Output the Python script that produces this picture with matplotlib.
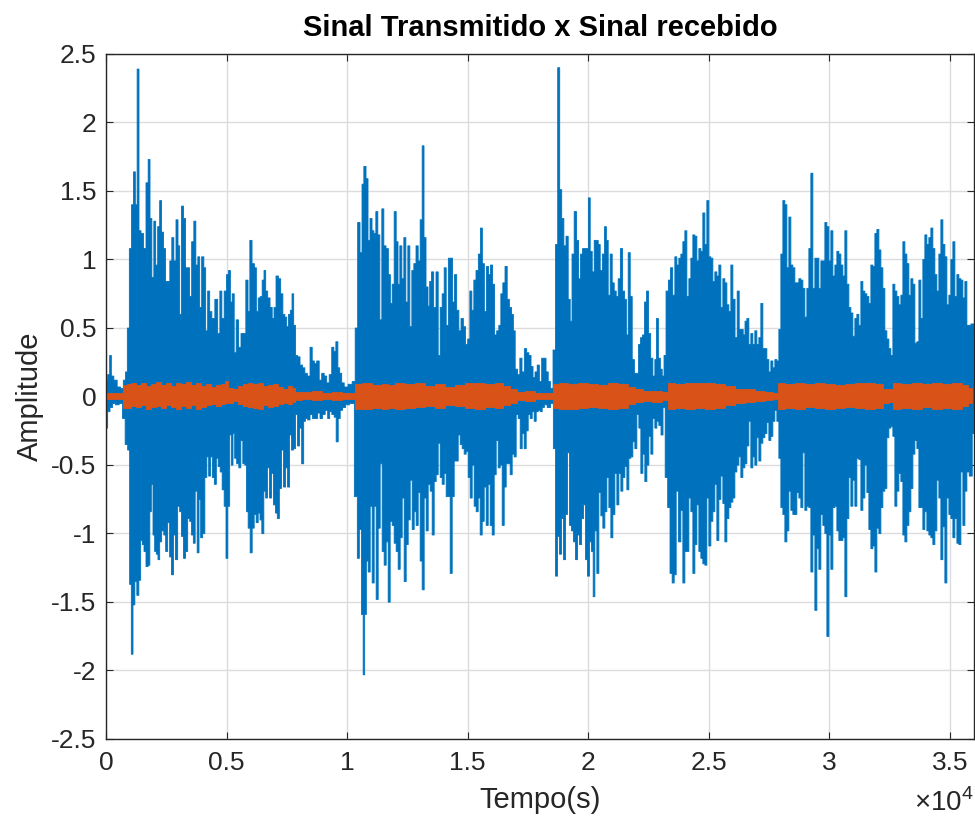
import numpy as np
import matplotlib.pyplot as plt

# transmitted signal (blue): upper envelope, sample index -> amplitude
t_tx_up = [
    0, 97, 166, 235, 373, 511, 649, 747, 830, 899,
    996, 1078, 1161, 1230, 1313, 1382, 1479, 1590, 1687, 1770,
    1839, 1922, 2005, 2074, 2171, 2240, 2323, 2406, 2489, 2586,
    2668, 2751, 2834, 2931, 3001, 3069, 3153, 3235, 3318, 3402,
    3484, 3581, 3664, 3747, 3830, 3899, 3996, 4078, 4148, 4245,
    4314, 4425, 4563, 4660, 4743, 4826, 4936, 5019, 5103, 5171,
    5255, 5337, 5420, 5530, 5627, 5724, 5835, 5904, 5987, 6084,
    6180, 6250, 6333, 6416, 6498, 6568, 6637, 6734, 6831, 6913,
    6983, 7079, 7176, 7273, 7356, 7439, 7508, 7591, 7661, 7729,
    7798, 7881, 7978, 8075, 8185, 8269, 8393, 8490, 8573, 8669,
    8766, 8877, 8974, 9084, 9181, 9292, 9389, 9471, 9555, 9638,
    9707, 9804, 9914, 10122, 10260,
    10369, 10466, 10563, 10632, 10715, 10812, 10881, 10978, 11047, 11130,
    11212, 11295, 11378, 11461, 11544, 11641, 11738, 11807, 11890, 11973,
    12056, 12125, 12208, 12291, 12374, 12457, 12540, 12623, 12706, 12789,
    12885, 12968, 13051, 13134, 13203, 13300, 13369, 13439, 13521, 13618,
    13715, 13798, 13881, 13964, 14047, 14130, 14227, 14310, 14393, 14476,
    14572, 14655, 14752, 14849, 14932, 15029, 15111, 15194, 15277, 15374,
    15471, 15554, 15623, 15720, 15803, 15886, 15969, 16052, 16135, 16231,
    16314, 16397, 16480, 16577, 16660, 16757, 16840, 16909, 16992, 17102,
    17185, 17282, 17379, 17476, 17559, 17655, 17725, 17821, 17904, 18001,
    18098, 18181, 18278, 18361, 18457, 18582, 18665, 18762, 18831, 18928,
    19010, 19107, 19190, 19273, 19342, 19453, 19536, 19619, 19702, 19785,
    19868, 19951, 20020, 20103, 20186, 20269, 20352, 20434, 20517, 20614,
    20697, 20766, 20849, 20932, 21015, 21098, 21181, 21264, 21361, 21444,
    21527, 21596, 21679, 21762, 21845, 21942, 22025, 22108, 22191, 22274,
    22357, 22439, 22522, 22619, 22702, 22785, 22840, 22937,
    23006, 23089, 23158, 23255, 23351, 23434, 23531, 23614, 23697, 23780,
    23863, 23946, 24029, 24112, 24195, 24278, 24361, 24444, 24527, 24610,
    24692, 24775, 24858, 24941, 25024, 25107, 25190, 25273, 25356, 25439,
    25522, 25605, 25688, 25771, 25854, 25937, 26020, 26117, 26199, 26282,
    26365, 26448, 26517, 26600, 26683, 26766, 26849, 26932, 27015, 27098,
    27181, 27264, 27347, 27430, 27513, 27596, 27679, 27762, 27845, 27928,
    28011, 28094, 28177, 28260, 28342, 28425, 28508, 28591, 28674, 28757,
    28840, 28923, 29006, 29089, 29172, 29255, 29338, 29421, 29504, 29587,
    29670, 29753, 29836, 29919, 30002, 30085, 30168, 30251, 30333, 30416,
    30499, 30582, 30665, 30748, 30831, 30914, 30997, 31080, 31163, 31246,
    31329, 31412, 31495, 31578, 31661, 31744, 31827, 31910, 31993, 32076,
    32158, 32241, 32324, 32407, 32490, 32573, 32656, 32739, 32822, 32905,
    32988, 33071, 33154, 33237, 33320, 33403, 33486, 33569, 33652, 33735,
    33817, 33900, 33983, 34066, 34149, 34232, 34315, 34398, 34481, 34564,
    34647, 34730, 34813, 34896, 34979, 35062, 35145, 35228, 35311, 35394,
    35477, 35560, 35643, 35726, 35975,
]
tx_up = [
    0.12, 0.16, 0.30, 0.15, 0.12, 0.07, 0.06, 0.12, 0.18, 0.50,
    1.08, 1.40, 1.64, 1.40, 2.39, 1.21, 1.19, 1.08, 1.56, 1.73,
    1.30, 0.87, 1.28, 0.96, 1.24, 1.43, 1.20, 1.08, 0.84, 0.84,
    0.99, 1.16, 0.99, 1.29, 1.10, 0.60, 1.39, 1.30, 0.94, 0.94,
    0.73, 1.13, 1.28, 0.96, 1.02, 0.65, 1.02, 0.94, 0.48, 0.77,
    0.62, 0.57, 0.71, 0.46, 0.77, 0.57, 0.77, 0.89, 0.92, 0.69,
    0.75, 0.32, 0.56, 0.36, 0.46, 0.46, 0.85, 0.62, 1.14, 0.97,
    0.94, 0.62, 0.72, 0.73, 0.85, 0.92, 0.77, 0.72, 0.65, 0.57,
    0.65, 0.88, 0.86, 0.75, 0.60, 0.58, 0.51, 0.60, 0.63, 0.75,
    0.52, 0.30, 0.29, 0.23, 0.21, 0.17, 0.15, 0.36, 0.26, 0.24,
    0.26, 0.12, 0.17, 0.15, 0.10, 0.16, 0.36, 0.33, 0.40, 0.21,
    0.17, 0.10, 0.07, 0.09, 0.11,
    0.50, 1.27, 1.05, 1.55, 1.68, 1.59, 1.14, 1.30, 1.21, 1.19,
    1.35, 1.18, 0.56, 1.37, 1.10, 1.08, 0.89, 0.68, 0.82, 1.35,
    1.13, 0.82, 1.10, 0.86, 1.16, 0.69, 1.10, 0.51, 0.92, 0.97,
    1.10, 0.99, 1.29, 1.83, 1.16, 0.80, 0.66, 0.84, 0.91, 0.65,
    0.91, 0.30, 0.65, 0.75, 0.94, 0.52, 1.01, 1.01, 0.69, 0.89,
    0.63, 0.48, 0.57, 0.51, 0.38, 0.42, 0.77, 0.63, 0.85, 0.92,
    1.04, 1.23, 0.97, 0.62, 0.95, 0.89, 0.96, 0.82, 0.45, 0.48,
    0.52, 0.75, 0.83, 0.95, 0.71, 0.65, 0.60, 0.48, 0.20, 0.16,
    0.28, 0.18, 0.35, 0.32, 0.30, 0.22, 0.14, 0.18, 0.23, 0.11,
    0.28, 0.28, 0.18, 0.11, 0.06, 0.34, 1.11, 2.40, 1.51, 1.30,
    1.10, 1.17, 0.71, 0.55, 1.04, 1.35, 1.14, 0.86, 1.04, 1.08,
    1.08, 1.08, 1.45, 1.06, 0.91, 1.14, 1.14, 1.11, 0.92, 1.04,
    1.24, 1.14, 0.74, 1.04, 0.83, 0.77, 0.73, 0.86, 1.08, 0.77,
    0.71, 0.45, 1.05, 0.73, 0.27, 0.17, 0.17, 0.38, 0.43, 0.45,
    0.69, 0.77, 0.46, 0.28, 0.15, 0.27, 0.57, 0.28,
    0.20, 0.15, 0.30, 0.77, 0.85, 0.94, 0.74, 1.02, 0.96, 1.01,
    1.04, 1.13, 1.21, 0.73, 0.86, 1.01, 1.18, 1.17, 0.99, 1.08,
    1.06, 1.34, 1.11, 1.43, 1.02, 1.01, 0.84, 0.91, 0.88, 0.96,
    0.65, 0.86, 0.83, 0.67, 0.62, 0.96, 0.71, 0.43, 0.77, 0.49,
    0.49, 0.45, 0.55, 0.57, 0.38, 0.46, 0.38, 0.48, 0.38, 0.43,
    0.68, 0.35, 0.35, 0.27, 0.18, 0.26, 0.21, 0.27, 0.26, 0.49,
    1.04, 1.43, 1.40, 0.94, 1.31, 0.96, 0.94, 0.83, 0.83, 0.86,
    0.85, 0.79, 0.58, 0.79, 1.08, 1.63, 0.79, 1.01, 1.01, 0.79,
    0.99, 0.99, 1.27, 1.24, 0.99, 1.21, 0.88, 0.96, 1.06, 1.04,
    0.96, 0.88, 1.21, 0.82, 0.65, 0.61, 0.44, 0.57, 0.60, 0.52,
    0.84, 0.77, 0.75, 0.73, 0.68, 0.96, 0.95, 1.19, 1.22, 1.07,
    0.94, 0.79, 0.48, 0.42, 0.35, 0.30, 0.82, 0.77, 0.73, 0.67,
    0.74, 1.13, 1.04, 0.97, 0.74, 0.86, 0.82, 0.39, 0.40, 0.85,
    0.57, 1.00, 1.18, 1.11, 1.16, 1.23, 1.08, 0.89, 0.77, 1.04,
    1.29, 1.11, 1.02, 0.67, 0.74, 1.00, 1.13, 0.73, 0.89, 0.86,
    0.85, 0.72, 0.84, 0.52, 0.53,
]

# transmitted signal (blue): lower envelope
t_tx_lo = [
    0, 97, 193, 304, 442, 608, 719, 829, 926, 995,
    1064, 1134, 1217, 1300, 1382, 1452, 1521, 1590, 1687, 1770,
    1825, 1894, 1963, 2032, 2101, 2171, 2240, 2336, 2419, 2489,
    2585, 2654, 2737, 2820, 2903, 3000, 3069, 3152, 3235, 3318,
    3415, 3484, 3567, 3636, 3719, 3802, 3871, 3940, 4037, 4120,
    4203, 4272, 4355, 4424, 4521, 4590, 4673, 4756, 4839, 4922,
    4991, 5074, 5143, 5212, 5281, 5350, 5447, 5530, 5613, 5696,
    5779, 5834, 5917, 6000, 6083, 6166, 6249, 6332, 6401, 6484,
    6567, 6636, 6719, 6802, 6885, 6968, 7051, 7120, 7217, 7300,
    7383, 7466, 7549, 7632, 7715, 7798, 7881, 7964, 8047, 8144,
    8213, 8296, 8392, 8489, 8600, 8710, 8807, 8904, 9015, 9125,
    9222, 9291, 9402, 9484, 9568, 9651, 9733, 9844, 9982, 10190,
    10369, 10438, 10535, 10618, 10673, 10742, 10812, 10895, 10978, 11060,
    11143, 11226, 11309, 11392, 11475, 11558, 11641, 11724, 11807, 11890,
    11973, 12056, 12139, 12222, 12305, 12388, 12471, 12554, 12637, 12720,
    12802, 12885, 12968, 13051, 13134, 13217, 13300, 13383, 13466, 13549,
    13632, 13715, 13798, 13881, 13964, 14047, 14130, 14213, 14296, 14379,
    14462, 14545, 14628, 14710, 14793, 14876, 14959, 15042, 15125, 15208,
    15291, 15374, 15457, 15540, 15623, 15706, 15789, 15872, 15955, 16038,
    16121, 16204, 16287, 16370, 16453, 16536, 16618, 16701, 16784, 16867,
    16950, 17033, 17116, 17199, 17282, 17365, 17448, 17531, 17614, 17697,
    17780, 17863, 17946, 18029, 18112, 18208, 18347, 18485, 18582, 18665,
    18748, 18831, 18914, 18996, 19079, 19162, 19245, 19328, 19411, 19494,
    19577, 19660, 19743, 19826, 19909, 19992, 20075, 20158, 20213, 20296,
    20379, 20462, 20545, 20628, 20711, 20794, 20877, 20960, 21043, 21126,
    21209, 21292, 21375, 21458, 21541, 21624, 21706, 21789, 21872, 21955,
    22038, 22121, 22204, 22287, 22370, 22453, 22536, 22619, 22702, 22785,
    22868,
    22950, 23047, 23116, 23227, 23324, 23420, 23503, 23586, 23669, 23780,
    23863, 23946, 24029, 24112, 24195, 24278, 24361, 24444, 24527, 24610,
    24692, 24775, 24858, 24941, 25024, 25107, 25190, 25273, 25356, 25439,
    25522, 25605, 25688, 25771, 25854, 25937, 26020, 26103, 26186, 26269,
    26352, 26435, 26517, 26600, 26683, 26766, 26849, 26932, 27015, 27098,
    27181, 27264, 27347, 27430, 27513, 27596, 27679, 27762, 27845, 27928,
    28011, 28094, 28177, 28260, 28342, 28425, 28508, 28591, 28674, 28757,
    28840, 28923, 29006, 29089, 29172, 29255, 29338, 29421, 29504, 29587,
    29670, 29753, 29836, 29919, 30002, 30085, 30168, 30251, 30333, 30416,
    30499, 30582, 30665, 30748, 30831, 30914, 30997, 31080, 31163, 31246,
    31329, 31412, 31495, 31578, 31661, 31744, 31827, 31910, 31993, 32076,
    32158, 32241, 32324, 32407, 32490, 32573, 32656, 32739, 32822, 32905,
    32988, 33071, 33154, 33237, 33320, 33403, 33486, 33569, 33652, 33735,
    33817, 33900, 33983, 34066, 34149, 34232, 34315, 34398, 34481, 34564,
    34647, 34730, 34813, 34896, 34979, 35062, 35145, 35228, 35311, 35394,
    35477, 35560, 35643, 35726, 35837, 35975,
]
tx_lo = [
    -0.23, -0.11, -0.08, -0.05, -0.06, -0.05, -0.16, -0.35, -0.39, -1.37,
    -1.88, -1.52, -1.35, -1.45, -1.34, -1.05, -1.08, -1.13, -1.24, -1.23,
    -0.84, -0.64, -1.01, -1.13, -1.15, -1.19, -1.06, -0.98, -1.01, -1.13,
    -0.92, -1.17, -1.30, -1.01, -1.19, -0.80, -0.84, -1.02, -1.18, -1.13,
    -0.89, -0.91, -1.01, -1.07, -0.69, -1.14, -0.75, -1.03, -1.00, -0.59,
    -0.44, -0.58, -0.44, -0.59, -0.64, -0.45, -0.51, -0.55, -0.68, -0.80,
    -1.18, -0.80, -0.28, -0.50, -0.27, -0.45, -0.49, -0.52, -0.32, -0.49,
    -0.50, -0.84, -0.96, -1.14, -0.96, -0.86, -0.92, -0.85, -0.90, -1.00,
    -0.69, -0.74, -0.52, -0.74, -0.56, -0.79, -0.85, -0.89, -0.67, -0.39,
    -0.66, -0.52, -0.66, -0.28, -0.39, -0.38, -0.13, -0.36, -0.23, -0.49,
    -0.18, -0.16, -0.17, -0.13, -0.16, -0.16, -0.12, -0.16, -0.13, -0.10,
    -0.16, -0.11, -0.13, -0.15, -0.33, -0.16, -0.10, -0.08, -0.06, -0.05,
    -0.73, -1.18, -0.97, -1.59, -2.03, -1.59, -1.20, -1.28, -0.80, -1.36,
    -0.80, -1.48, -0.96, -0.49, -1.13, -1.23, -1.06, -1.50, -0.91, -0.94,
    -1.07, -1.13, -1.26, -1.03, -0.74, -1.35, -1.08, -0.90, -0.61, -0.97,
    -0.84, -0.94, -0.70, -1.20, -1.41, -0.74, -0.98, -0.64, -0.69, -1.01,
    -0.62, -0.57, -0.34, -0.59, -0.64, -0.56, -0.73, -0.73, -1.29, -0.73,
    -0.47, -0.47, -0.28, -0.35, -0.38, -0.42, -0.40, -0.59, -0.74, -0.50,
    -0.80, -0.84, -0.74, -1.01, -0.91, -0.66, -0.94, -0.64, -0.94, -1.01,
    -0.57, -0.32, -0.52, -0.50, -0.94, -0.66, -0.49, -0.49, -0.57, -0.42,
    -0.44, -0.13, -0.16, -0.38, -0.27, -0.38, -0.25, -0.13, -0.16, -0.11,
    -0.18, -0.11, -0.10, -0.11, -0.08, -0.06, -0.08, -0.05, -0.38, -1.31,
    -1.02, -1.15, -0.89, -1.19, -0.86, -0.41, -0.94, -0.98, -1.06, -1.19,
    -1.01, -1.08, -0.89, -0.79, -1.19, -1.31, -1.06, -1.13, -1.46, -0.98,
    -1.29, -0.70, -0.87, -0.96, -0.84, -0.59, -0.81, -1.03, -0.86, -0.56,
    -0.79, -0.56, -0.69, -0.59, -0.51, -0.68, -0.45, -0.44, -0.33, -0.38,
    -0.13, -0.23, -0.56, -0.42, -0.62, -0.50, -0.29, -0.42, -0.16, -0.23,
    -0.18,
    -0.21, -0.28, -0.08, -0.59, -0.81, -1.29, -1.36, -1.30, -0.69, -1.06,
    -0.83, -1.36, -1.13, -1.13, -0.74, -0.84, -1.29, -1.08, -0.79, -1.13,
    -1.18, -1.22, -1.23, -0.74, -1.09, -0.91, -0.84, -0.64, -1.05, -0.75,
    -0.58, -0.78, -1.06, -0.89, -0.81, -0.77, -0.74, -0.55, -0.50, -0.44,
    -0.59, -0.52, -0.49, -0.36, -0.18, -0.52, -0.44, -0.50, -0.30, -0.47,
    -0.34, -0.30, -0.27, -0.19, -0.32, -0.29, -0.18, -0.10, -0.18, -0.45,
    -0.81, -0.86, -1.06, -0.98, -0.69, -0.83, -0.86, -0.86, -0.70, -0.74,
    -0.81, -0.41, -0.83, -0.80, -0.81, -1.28, -1.01, -1.56, -1.11, -1.26,
    -0.86, -0.94, -1.00, -1.75, -1.01, -1.26, -0.81, -0.80, -0.98, -1.05,
    -1.05, -1.03, -1.46, -0.89, -0.59, -0.80, -0.61, -0.80, -0.45, -0.46,
    -0.83, -0.74, -0.50, -0.70, -0.97, -1.11, -1.09, -1.28, -0.96, -1.00,
    -0.81, -0.69, -0.67, -0.30, -0.23, -0.22, -0.29, -0.80, -0.69, -0.56,
    -0.62, -1.01, -1.06, -0.94, -0.84, -0.67, -0.42, -0.32, -0.38, -0.81,
    -0.81, -0.97, -0.84, -0.98, -1.01, -1.03, -1.08, -0.98, -0.61, -0.74,
    -1.19, -0.95, -1.36, -0.74, -0.86, -0.89, -1.03, -0.89, -1.07, -1.08,
    -0.55, -0.94, -0.69, -0.55, -0.58, -0.27,
]

# received signal (orange): envelope
t_rx = [
    0, 304, 581, 857, 926, 1134, 1341, 1549, 1756, 1964,
    2171, 2379, 2586, 2794, 3001, 3209, 3416, 3624, 3831, 4039,
    4246, 4454, 4661, 4869, 5006, 5145, 5352, 5560, 5767, 5975,
    6182, 6390, 6597, 6805, 7012, 7220, 7427, 7635, 7772, 7911,
    8326, 8741, 9155, 9570, 9985, 10262, 10400, 10815, 11230, 11645,
    11779, 12194, 12609, 13024, 13439, 13854, 14268, 14683, 15098, 15513,
    15928, 16343, 16619, 16896, 17173, 17588, 18002, 18417, 18625, 18971,
    19386, 19801, 20216, 20631, 21046, 21460, 21806, 22082, 22428, 22843,
    23258, 23396, 23808, 24223, 24638, 25053, 25468, 25883, 26297, 26712,
    27127, 27542, 27819, 27957, 28372, 28787, 29202, 29617, 30032, 30446,
    30861, 31276, 31691, 32106, 32383, 32590, 32728, 33212, 33627, 34042,
    34457, 34872, 35287, 35702, 35840, 35975,
]
rx_up = [
    0.02, 0.02, 0.025, 0.08, 0.086, 0.098, 0.078, 0.093, 0.073, 0.086,
    0.10, 0.078, 0.093, 0.073, 0.098, 0.086, 0.10, 0.078, 0.098, 0.073,
    0.086, 0.068, 0.078, 0.086, 0.11, 0.061, 0.054, 0.073, 0.086, 0.098,
    0.086, 0.093, 0.073, 0.078, 0.086, 0.068, 0.049, 0.073, 0.061, 0.029,
    0.029, 0.037, 0.025, 0.029, 0.025, 0.02, 0.086, 0.093, 0.078, 0.086,
    0.078, 0.093, 0.086, 0.098, 0.073, 0.086, 0.068, 0.078, 0.093, 0.098,
    0.086, 0.093, 0.073, 0.054, 0.029, 0.037, 0.025, 0.02, 0.086, 0.098,
    0.086, 0.093, 0.086, 0.078, 0.093, 0.086, 0.068, 0.049, 0.037, 0.04,
    0.03, 0.098, 0.086, 0.098, 0.093, 0.098, 0.086, 0.073, 0.054, 0.049,
    0.04, 0.03, 0.02, 0.098, 0.086, 0.093, 0.086, 0.098, 0.086, 0.078,
    0.086, 0.098, 0.093, 0.086, 0.054, 0.049, 0.093, 0.086, 0.093, 0.086,
    0.098, 0.086, 0.093, 0.078, 0.06, 0.0,
]
rx_lo = [
    -0.02, -0.02, -0.02, -0.085, -0.085, -0.073, -0.077, -0.068, -0.092, -0.077,
    -0.073, -0.085, -0.068, -0.077, -0.097, -0.073, -0.085, -0.068, -0.092, -0.077,
    -0.068, -0.06, -0.073, -0.06, -0.048, -0.048, -0.036, -0.06, -0.073, -0.077,
    -0.085, -0.097, -0.068, -0.077, -0.073, -0.06, -0.048, -0.06, -0.043, -0.029,
    -0.024, -0.029, -0.019, -0.029, -0.019, -0.019, -0.097, -0.092, -0.085, -0.097,
    -0.085, -0.097, -0.085, -0.08, -0.073, -0.085, -0.068, -0.073, -0.085, -0.097,
    -0.08, -0.085, -0.068, -0.048, -0.029, -0.036, -0.024, -0.019, -0.085, -0.092,
    -0.097, -0.085, -0.08, -0.085, -0.092, -0.085, -0.06, -0.043, -0.036, -0.043,
    -0.03, -0.092, -0.085, -0.092, -0.085, -0.097, -0.085, -0.068, -0.048, -0.043,
    -0.036, -0.03, -0.019, -0.092, -0.085, -0.092, -0.08, -0.085, -0.092, -0.085,
    -0.08, -0.085, -0.092, -0.085, -0.048, -0.043, -0.092, -0.085, -0.092, -0.08,
    -0.092, -0.085, -0.092, -0.073, -0.05, 0.0,
]

x_ticks = [0, 5000, 10000, 15000, 20000, 25000, 30000, 35000]
x_ticklabels = ["0", "0.5", "1", "1.5", "2", "2.5", "3", "3.5"]
y_ticks = [-2.5, -2, -1.5, -1, -0.5, 0, 0.5, 1, 1.5, 2, 2.5]
y_ticklabels = ["-2.5", "-2", "-1.5", "-1", "-0.5", "0", "0.5", "1", "1.5", "2", "2.5"]

plt.rcParams['font.family'] = ['Liberation Sans', 'DejaVu Sans']
plt.rcParams['mathtext.fontset'] = 'custom'
plt.rcParams['mathtext.rm'] = 'Liberation Sans'
plt.rcParams['axes.unicode_minus'] = False

blue = '#0072BD'
orange = '#D95319'
dark = '#262626'

fig = plt.figure(figsize=(9.75, 8.18), dpi=100)
# axes box: x 106..974 px, y 53.5..738.7 px
ax = fig.add_axes([106 / 975, 1 - 738.7 / 818, 868 / 975, 685.2 / 818])

ax.fill_between(t_tx_up, 0, tx_up, step='mid', color=blue, lw=0.6)
ax.fill_between(t_tx_lo, tx_lo, 0, step='mid', color=blue, lw=0.6)
ax.fill_between(t_rx, rx_lo, rx_up, step='mid', color=orange, lw=0.6)

ax.set_xlim(0, 36000)
ax.set_ylim(-2.5, 2.5)
ax.set_xticks(x_ticks)
ax.set_xticklabels(x_ticklabels)
ax.set_yticks(y_ticks)
ax.set_yticklabels(y_ticklabels)

ax.grid(True, color='#dcdcdc', lw=1.0)
ax.set_axisbelow(True)
for s in ax.spines.values():
    s.set_color(dark)
    s.set_linewidth(1.0)
ax.tick_params(direction='in', top=True, right=True, length=5, width=0.8,
               colors=dark, labelsize=19)
ax.tick_params(axis='y', pad=7)
ax.tick_params(axis='x', pad=9)

ax.text(0.5, 1.037, "Sinal Transmitido x Sinal recebido", transform=ax.transAxes,
        ha='center', va='center', fontsize=21, fontweight='bold', color='black')

ax.set_xlabel("Tempo(s)", fontsize=21, color=dark, va='center')
ax.xaxis.set_label_coords(0.5, -0.0895)
ax.set_ylabel("Amplitude", fontsize=21, color=dark, va='center')
ax.yaxis.set_label_coords(-0.0876, 0.5)
ax.text(1.0, -0.093, r"$\times10^{4}$", transform=ax.transAxes,
        ha='right', va='center', fontsize=20, color=dark)

fig.savefig("out.png", dpi=100)
